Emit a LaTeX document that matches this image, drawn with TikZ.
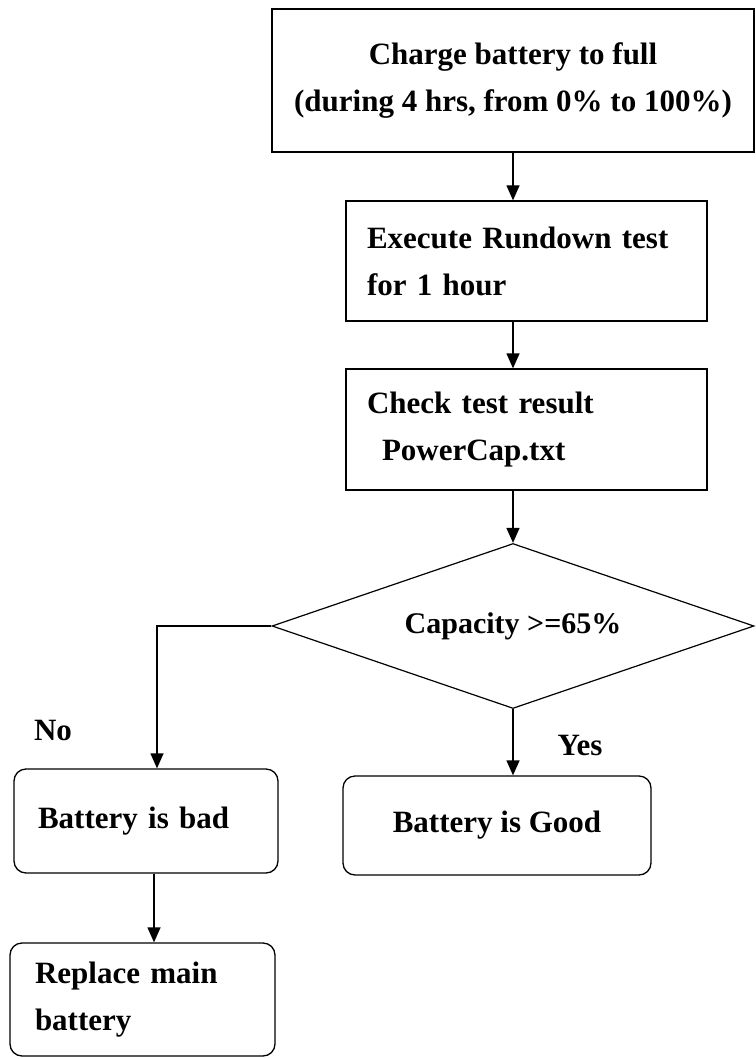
\documentclass[tikz,border=0pt]{standalone}
\usepackage{fontspec}
\setmainfont{Liberation Serif}
\usetikzlibrary{arrows.meta, shapes.geometric}
\tikzset{stepbox/.style={rectangle,draw,line width=1.3pt,align=left,inner xsep=21pt,inner ysep=0pt,font=\fontsize{31}{47}\selectfont\bfseries},endbox/.style={stepbox,rounded corners=12pt},decision/.style={diamond,draw,line width=1.2pt,inner sep=0pt,aspect=2.9,font=\fontsize{30}{36}\selectfont\bfseries},lbl/.style={font=\fontsize{31}{36}\selectfont\bfseries},line/.style={line width=1.3pt,-{Triangle[length=15pt,width=13pt]}}}

\begin{document}
\begin{tikzpicture}[x=1pt,y=-1pt]
\useasboundingbox (0,0) rectangle (755,1059);
\node[stepbox, align=center, minimum width=482pt, minimum height=143pt] (charge) at (513,80.5) {Charge battery to full\\(during 4 hrs, from 0\% to 100\%)};
\node[stepbox, text width=319pt, minimum height=120pt] (exec) at (526.5,261) {Execute Rundown test\\for 1 hour};
\node[stepbox, text width=319pt, minimum height=121pt] (check) at (526.5,429.5) {Check test result\\\hspace*{15pt}PowerCap.txt};
\node[decision, minimum width=482pt, minimum height=165pt] (dia) at (513,626) {Capacity >=65\%};
\node[endbox, inner xsep=24pt, text width=216pt, minimum height=104pt] (bad) at (146,821) {Battery is bad};
\node[endbox, inner xsep=25pt, text width=215pt, minimum height=113pt] (rep) at (142.5,999.5) {Replace main\\battery};
\node[endbox, align=center, minimum width=308pt, minimum height=99pt] (good) at (497,825.5) {Battery is Good};
\node[lbl] (no) at (53,730) {No};
\node[lbl] (yes) at (580,745) {Yes};
\draw[line] (charge.south) -- (charge.south |- exec.north);
\draw[line] (charge.south |- exec.south) -- (charge.south |- check.north);
\draw[line] (charge.south |- check.south) -- (dia.north);
\draw[line] (dia.west) -| ([xshift=11pt]bad.north);
\draw[line] (dia.south) -- (dia.south |- good.north);
\draw[line] ([xshift=8pt]bad.south) -- ([xshift=8pt]bad.south |- rep.north);
\end{tikzpicture}
\end{document}
